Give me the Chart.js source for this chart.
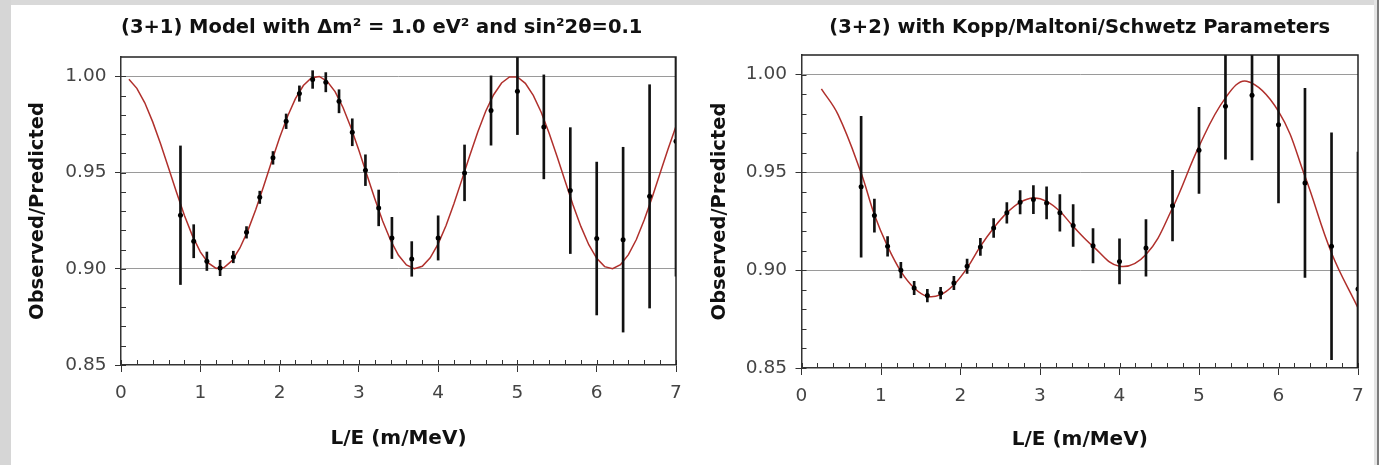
<!DOCTYPE html>
<html><head><meta charset="utf-8">
<script src="https://cdn.jsdelivr.net/npm/chart.js@4.4.1/dist/chart.umd.min.js"></script>
<style>
html,body{margin:0;padding:0;background:#fff;overflow:hidden;width:1379px;height:465px;}
#c1{position:absolute;left:11px;top:0;}
#c2{position:absolute;left:700px;top:0;}
.g{position:absolute;z-index:5;}
</style></head><body>
<canvas id="c1" width="738" height="465"></canvas>
<canvas id="c2" width="744" height="465"></canvas>
<div class="g" style="left:0;top:0;width:1379px;height:5px;background:#d9d9d9"></div>
<div class="g" style="left:0;top:0;width:11px;height:465px;background:#d6d6d6"></div>
<div class="g" style="left:1374px;top:0;width:3px;height:465px;background:#e4e4e4"></div>
<div class="g" style="left:1377px;top:0;width:2px;height:465px;background:#7c7c7c"></div>
<script>
// L/E bin centres (m/MeV)
const binLE = [0.75, 0.917, 1.083, 1.25, 1.417, 1.583, 1.75, 1.917, 2.083, 2.25, 2.417, 2.583, 2.75, 2.917, 3.083, 3.25, 3.417, 3.667, 4.0, 4.333, 4.667, 5.0, 5.333, 5.667, 6.0, 6.333, 6.667, 7.0];
// (3+1) panel: observed/predicted and errors
const obs31 = [0.9278, 0.9143, 0.9039, 0.9004, 0.9061, 0.9189, 0.9371, 0.9576, 0.9766, 0.9910, 0.9983, 0.9969, 0.9870, 0.9709, 0.9512, 0.9316, 0.9160, 0.9051, 0.9160, 0.9498, 0.9822, 0.9922, 0.9737, 0.9406, 0.9157, 0.9151, 0.9376, 0.9662];
const err31 = [0.036, 0.0086, 0.0048, 0.004, 0.003, 0.003, 0.0032, 0.0033, 0.0038, 0.004, 0.0046, 0.005, 0.006, 0.007, 0.008, 0.0093, 0.0107, 0.009, 0.0115, 0.0145, 0.018, 0.0225, 0.027, 0.0327, 0.0397, 0.048, 0.058, 0.07];
// (3+2) panel: observed/predicted and errors
const obs32 = [0.9426, 0.9279, 0.9122, 0.9000, 0.8909, 0.8870, 0.8883, 0.8935, 0.9020, 0.9119, 0.9216, 0.9293, 0.9347, 0.9361, 0.9344, 0.9293, 0.9228, 0.9125, 0.9045, 0.9114, 0.9330, 0.9613, 0.9838, 0.9894, 0.9744, 0.9446, 0.9122, 0.8904];
const err32 = [0.036, 0.0085, 0.005, 0.004, 0.0034, 0.0032, 0.003, 0.0034, 0.0037, 0.0044, 0.0048, 0.0053, 0.006, 0.0072, 0.0082, 0.0094, 0.0107, 0.0088, 0.0115, 0.0145, 0.018, 0.022, 0.027, 0.033, 0.040, 0.0483, 0.058, 0.07];
// model curves
const fit31X = [0.1,0.2,0.3,0.4,0.5,0.6,0.7,0.8,0.9,1.0,1.1,1.2,1.3,1.4,1.5,1.6,1.7,1.8,1.9,2.0,2.1,2.2,2.3,2.4,2.5,2.6,2.7,2.8,2.9,3.0,3.1,3.2,3.3,3.4,3.5,3.6,3.7,3.8,3.9,4.0,4.1,4.2,4.3,4.4,4.5,4.6,4.7,4.8,4.9,5.0,5.1,5.2,5.3,5.4,5.5,5.6,5.7,5.8,5.9,6.0,6.1,6.2,6.3,6.4,6.5,6.6,6.7,6.8,6.9,7.0];
const fit31Y = [0.9984,0.9937,0.9862,0.9763,0.9648,0.9523,0.9397,0.9277,0.9172,0.9088,0.9030,0.9002,0.9006,0.9042,0.9108,0.9198,0.9308,0.9430,0.9557,0.9680,0.9791,0.9884,0.9952,0.9991,0.9999,0.9974,0.9920,0.9838,0.9734,0.9616,0.9490,0.9365,0.9248,0.9148,0.9070,0.9020,0.9000,0.9013,0.9057,0.9129,0.9225,0.9339,0.9463,0.9590,0.9710,0.9818,0.9904,0.9965,0.9996,0.9996,0.9963,0.9901,0.9813,0.9704,0.9583,0.9457,0.9333,0.9220,0.9125,0.9054,0.9011,0.9000,0.9021,0.9073,0.9152,0.9254,0.9371,0.9497,0.9622,0.9740];
const fit32X = [0.25, 0.46, 0.75, 0.917, 1.083, 1.25, 1.417, 1.583, 1.75, 1.917, 2.083, 2.25, 2.417, 2.583, 2.75, 2.917, 3.083, 3.25, 3.417, 3.667, 4.0, 4.333, 4.667, 5.0, 5.333, 5.6, 6.0, 6.333, 6.667, 7.0];
const fit32Y = [0.9927, 0.9795, 0.9497, 0.9284, 0.9122, 0.8994, 0.8909, 0.8866, 0.8875, 0.8926, 0.9011, 0.9122, 0.9216, 0.9293, 0.9347, 0.9369, 0.9352, 0.9301, 0.9224, 0.9122, 0.9020, 0.9080, 0.9318, 0.9633, 0.9881, 0.9966, 0.9812, 0.9480, 0.9088, 0.8807];
const xTickVals = [0, 1, 2, 3, 4, 5, 6, 7];
const yTickVals = [0.85, 0.90, 0.95, 1.00];
const titleText = ['(3+1) Model with \u0394m\u00B2 = 1.0 eV\u00B2 and sin\u00B22\u03B8=0.1', '(3+2) with Kopp/Maltoni/Schwetz Parameters'];
const xTitle = 'L/E (m/MeV)';
const yTitle = 'Observed/Predicted';

const FF = "'DejaVu Sans', Verdana, sans-serif";

const frame = {
  id: 'frame',
  beforeDatasetsDraw(chart) {
    const {ctx, chartArea: a, scales: {x, y}} = chart;
    ctx.save(); ctx.strokeStyle = '#333'; ctx.lineWidth = 1; ctx.beginPath();
    for (let i = 0; i <= 35; i++) {
      const px = Math.round(x.getPixelForValue(i * 0.2)) + 0.5;
      ctx.moveTo(px, a.bottom); ctx.lineTo(px, a.bottom - 5);
    }
    for (let i = 0; i <= 15; i++) {
      const py = Math.round(y.getPixelForValue(0.85 + i * 0.01)) + 0.5;
      ctx.moveTo(a.left, py); ctx.lineTo(a.left + 5, py);
    }
    ctx.stroke(); ctx.restore();
  },
  afterDatasetsDraw(chart) {
    const {ctx, chartArea: a} = chart;
    ctx.save(); ctx.strokeStyle = '#222'; ctx.lineWidth = 1.5; ctx.beginPath();
    ctx.moveTo(a.left, a.top); ctx.lineTo(a.right, a.top); ctx.lineTo(a.right, a.bottom);
    ctx.stroke(); ctx.restore();
  }
};

function build(id, fitX, fitY, obs, err, title, lay) {
  return new Chart(document.getElementById(id), {
    type: 'scatter',
    data: { datasets: [
      { type: 'line', data: fitX.map((x, i) => ({x, y: fitY[i]})), borderColor: '#b0302c', borderWidth: 1.5,
        pointRadius: 0, tension: lay.tension, order: 3, clip: 0 },
      { type: 'bar', data: binLE.map((x, i) => ({x, y: [obs[i] - err[i], obs[i] + err[i]]})),
        backgroundColor: '#111', borderWidth: 0, barThickness: 2, clip: 0, order: 2 },
      { type: 'scatter', data: binLE.map((x, i) => ({x, y: obs[i]})), pointRadius: 2.5,
        pointBackgroundColor: '#000', pointBorderWidth: 0, order: 1, clip: 0 }
    ]},
    options: {
      responsive: false, animation: false, devicePixelRatio: 1,
      layout: { padding: { top: 0, left: 0, bottom: 0, right: lay.padRight } },
      plugins: {
        legend: { display: false }, tooltip: { enabled: false },
        title: { display: true, text: title, color: '#111', font: { family: FF, size: 19.5, weight: 'bold' },
          fullSize: false, align: lay.tAlign,
          padding: { top: lay.tTop, bottom: lay.tBottom } }
      },
      scales: {
        x: { type: 'linear', min: 0, max: 7, offset: false,
          afterBuildTicks: s => { s.ticks = xTickVals.map(v => ({value: v})); },
          afterFit: s => { s.height = lay.xH; },
          grid: { display: true, drawOnChartArea: false, drawTicks: true, tickLength: 7, tickColor: '#333', offset: false },
          border: { display: true, color: '#333', width: 1.5 },
          ticks: { padding: 10, color: '#444', font: { family: FF, size: 18.5 }, maxRotation: 0, autoSkip: false },
          title: { display: true, text: xTitle, color: '#111', font: { family: FF, size: 20, weight: 'bold' },
            padding: { top: 0, bottom: lay.xTitleBottom } } },
        y: { type: 'linear', min: 0.85, max: 1.01,
          afterBuildTicks: s => { s.ticks = yTickVals.map(v => ({value: v})); },
          afterFit: s => { s.width = lay.yW; },
          grid: { color: c => (c.tick && c.tick.value === yTickVals[0]) ? 'rgba(0,0,0,0)' : '#9a9a9a',
            lineWidth: 1, tickLength: 6, tickColor: '#333' },
          border: { display: true, color: '#333', width: 1.5 },
          ticks: { padding: 8.5, color: '#444', font: { family: FF, size: 18.5 }, callback: v => v.toFixed(2) },
          title: { display: true, text: yTitle, color: '#111', font: { family: FF, size: 19.5, weight: 'bold' },
            padding: { top: lay.yTitleTop, bottom: 0 } } }
      }
    },
    plugins: [frame]
  });
}

build('c1', fit31X, fit31Y, obs31, err31, titleText[0],
  { tension: 0, padRight: 73, tAlign: 'start', tTop: 16.3, tBottom: 17.3, xH: 100, xTitleBottom: 14.6, yW: 110, yTitleTop: 14.8 });
build('c2', fit32X, fit32Y, obs32, err32, titleText[1],
  { tension: 0.4, padRight: 86, tAlign: 'center', tTop: 16.3, tBottom: 15.3, xH: 97, xTitleBottom: 13.1, yW: 101.5, yTitleTop: 8.3 });
</script>
</body></html>
